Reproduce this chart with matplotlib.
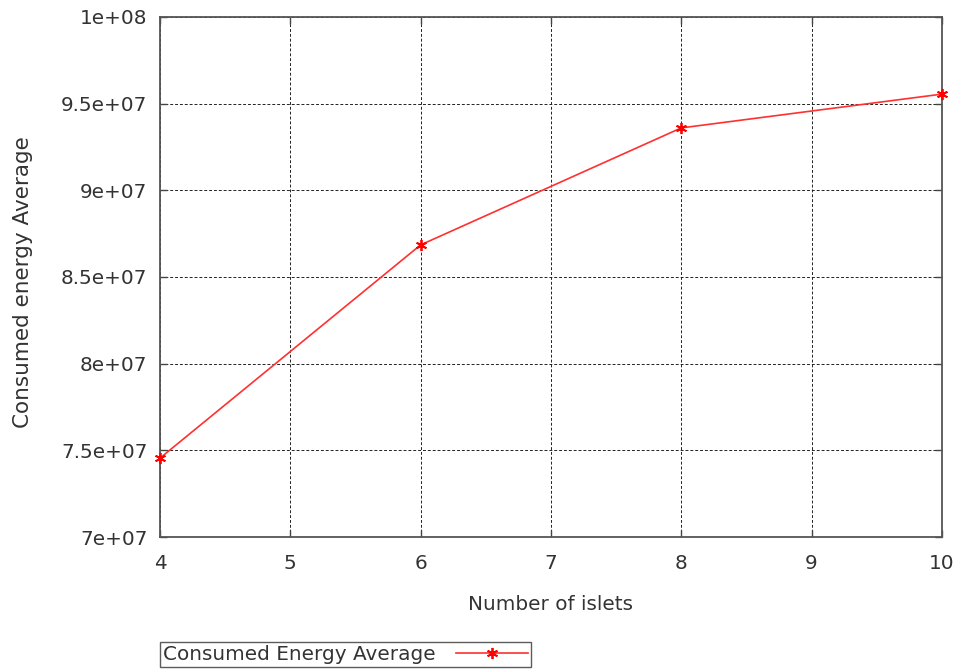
import matplotlib
matplotlib.use('Agg')
import matplotlib.pyplot as plt

# consumed energy per number of islets
islets = [4, 6, 8, 10]
energy = [7.455e7, 8.685e7, 9.36e7, 9.555e7]
xticks = [4, 5, 6, 7, 8, 9, 10]
yticks = [7e7, 7.5e7, 8e7, 8.5e7, 9e7, 9.5e7, 1e8]
ylabels = ['7e+07', '7.5e+07', '8e+07', '8.5e+07', '9e+07', '9.5e+07', '1e+08']

plt.rcParams['font.family'] = 'DejaVu Sans'
fig = plt.figure(figsize=(9.59, 6.69), dpi=100)
ax = fig.add_axes([0.1668, 0.1973, 0.8153, 0.7773])

ax.plot(islets, energy, '-', color='#ff3030', lw=1.2,
        marker=(6, 2, 0), ms=8, mec='red', mew=1.3,
        label='Consumed Energy Average', clip_on=False, zorder=3)

ax.set_xlim(4, 10)
ax.set_ylim(7e7, 1e8)
ax.set_xticks(xticks)
ax.set_yticks(yticks)
ax.set_yticklabels(ylabels)
ax.grid(True, color='#222222', ls=(0, (3, 2)), lw=0.7)
ax.tick_params(direction='in', top=True, right=True, length=5, width=1,
               colors='#444444', labelcolor='#333333', labelsize=14.4)
ax.tick_params(axis='x', pad=12)
ax.tick_params(axis='y', pad=9)
for s in ax.spines.values():
    s.set_color('#555555')
    s.set_linewidth(1.3)

ax.set_xlabel('Number of islets', fontsize=14.4, color='#333333')
ax.xaxis.set_label_coords(0.5, -0.111)
ax.set_ylabel('Consumed energy Average', fontsize=15.5, color='#333333')
ax.yaxis.set_label_coords(-0.162, 0.49)

leg = fig.legend(loc='lower left', bbox_to_anchor=(160 / 959, 2 / 669),
                 markerfirst=False, fontsize=14.4, frameon=True, fancybox=False,
                 borderpad=0.15, handlelength=3.6, handletextpad=1.0,
                 borderaxespad=0)
leg.get_frame().set_edgecolor('#333333')
leg.get_frame().set_linewidth(1.0)
for t in leg.get_texts():
    t.set_color('#333333')

fig.savefig('out.png', dpi=100)
